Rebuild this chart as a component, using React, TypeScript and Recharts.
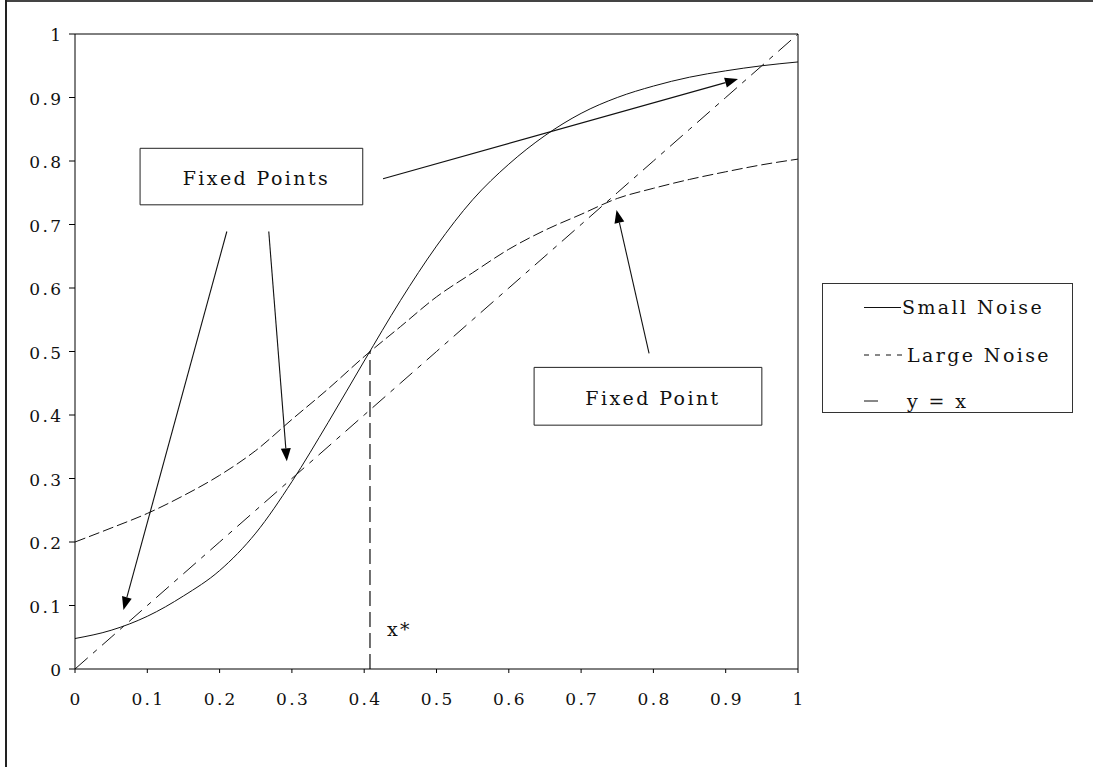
import React from 'react';
import { LineChart, Line, XAxis, YAxis, ReferenceLine, ReferenceArea, Legend } from 'recharts';

// ---- data ----
const xValues = [0, 0.05, 0.1, 0.15, 0.2, 0.25, 0.3, 0.35, 0.4, 0.45, 0.5, 0.55, 0.6, 0.65, 0.7, 0.75, 0.8, 0.85, 0.9, 0.95, 1];
const smallNoise = [0.048, 0.061, 0.083, 0.115, 0.155, 0.214, 0.295, 0.388, 0.485, 0.58, 0.666, 0.739, 0.795, 0.84, 0.875, 0.9, 0.918, 0.932, 0.942, 0.95, 0.956];
const largeNoise = [0.2, 0.222, 0.245, 0.273, 0.305, 0.344, 0.393, 0.441, 0.492, 0.539, 0.586, 0.624, 0.661, 0.691, 0.716, 0.741, 0.757, 0.771, 0.783, 0.794, 0.803];
const identity = [0, 0.05, 0.1, 0.15, 0.2, 0.25, 0.3, 0.35, 0.4, 0.45, 0.5, 0.55, 0.6, 0.65, 0.7, 0.75, 0.8, 0.85, 0.9, 0.95, 1];
const axisTicks = [0, 0.1, 0.2, 0.3, 0.4, 0.5, 0.6, 0.7, 0.8, 0.9, 1];
const seriesNames = ['Small Noise', 'Large Noise', 'y = x'];

const xStar = 0.408;
const xStarTop = 0.5;
const xStarLabel = 'x*';

// annotation arrows (data coordinates: from -> to)
const arrows = [
  { from: { x: 0.426, y: 0.772 }, to: { x: 0.917, y: 0.929 } },
  { from: { x: 0.21, y: 0.689 }, to: { x: 0.067, y: 0.093 } },
  { from: { x: 0.268, y: 0.689 }, to: { x: 0.293, y: 0.327 } },
  { from: { x: 0.794, y: 0.497 }, to: { x: 0.749, y: 0.723 } },
];

// annotation boxes (data coordinates)
const boxes = [
  { text: 'Fixed Points', x1: 0.09, x2: 0.398, y1: 0.731, y2: 0.82 },
  { text: 'Fixed Point', x1: 0.635, x2: 0.95, y1: 0.384, y2: 0.475 },
];

const data = xValues.map((x, i) => ({ x, small: smallNoise[i], large: largeNoise[i], diag: identity[i] }));

const FONT = '"DejaVu Serif", serif';
const TFS = 17;
const TLS = 2.3;
const FS = 19;
const LS = 2.4;
const INK = '#111';

const XTick = (p: any) => (
  <text x={p.x + TLS / 2} y={p.y + 30} textAnchor="middle" fontFamily={FONT} fontSize={TFS} letterSpacing={TLS} fill={INK}>
    {String(p.payload.value)}
  </text>
);

const YTick = (p: any) => (
  <text x={p.x + TLS} y={p.y + 7} textAnchor="end" fontFamily={FONT} fontSize={TFS} letterSpacing={TLS} fill={INK}>
    {String(p.payload.value)}
  </text>
);

const ArrowShape = (p: any) => {
  const { x1, y1, x2, y2 } = p;
  const ang = Math.atan2(y2 - y1, x2 - x1);
  const L = 13;
  const W = 5;
  const c = Math.cos(ang);
  const s = Math.sin(ang);
  const bx = x2 - L * c;
  const by = y2 - L * s;
  return (
    <g>
      <line x1={x1} y1={y1} x2={bx} y2={by} stroke={INK} strokeWidth={1.1} />
      <polygon points={`${x2},${y2} ${bx + W * s},${by - W * c} ${bx - W * s},${by + W * c}`} fill="#000" />
    </g>
  );
};

const XStarShape = (p: any) => {
  const { x1, y1, x2, y2 } = p;
  const bottom = Math.max(y1, y2);
  return (
    <g>
      <line x1={x1} y1={y1} x2={x2} y2={y2} stroke={INK} strokeWidth={1.2} strokeDasharray="15 6" />
      <text x={x1 + 17} y={bottom - 33} fontFamily={FONT} fontSize={FS} letterSpacing={LS} fill={INK}>
        {xStarLabel}
      </text>
    </g>
  );
};

const BoxLabel = (text: string) => (p: any) => {
  const vb = p.viewBox;
  return (
    <text
      x={vb.x + vb.width / 2 + 5}
      y={vb.y + vb.height / 2 + 8.5}
      textAnchor="middle"
      fontFamily={FONT}
      fontSize={FS}
      letterSpacing={LS}
      fill={INK}
    >
      {text}
    </text>
  );
};

const LegendBox = () => (
  <div style={{ width: 251, height: 130, boxSizing: 'border-box', border: '1px solid #333', background: '#fff' }}>
    <svg width={249} height={128} style={{ display: 'block' }}>
      <line x1={41} y1={23.5} x2={78} y2={23.5} stroke={INK} strokeWidth={1} />
      <text x={79} y={29.5} fontFamily={FONT} fontSize={FS} letterSpacing={LS} fill={INK}>{seriesNames[0]}</text>
      <line x1={41} y1={71} x2={80} y2={71} stroke={INK} strokeWidth={1} strokeDasharray="5 6" />
      <text x={84} y={77.5} fontFamily={FONT} fontSize={FS} letterSpacing={LS} fill={INK}>{seriesNames[1]}</text>
      <line x1={41} y1={117} x2={55} y2={117} stroke={INK} strokeWidth={1} />
      <text x={84} y={123.5} fontFamily={FONT} fontSize={FS} letterSpacing={LS} fill={INK}>{seriesNames[2]}</text>
    </svg>
  </div>
);

export default function App() {
  return (
    <div style={{ position: 'absolute', left: 0, top: 0, width: 1093, height: 767, background: '#fff', overflow: 'hidden' }}>
      <div style={{ position: 'absolute', left: 5, top: 0, width: 1088, height: 2, background: '#444' }} />
      <div style={{ position: 'absolute', left: 5, top: 0, width: 2, height: 767, background: '#222' }} />
      <LineChart width={1093} height={767} data={data} margin={{ top: 34, right: 44, bottom: 0, left: 0 }}>
        <XAxis
          type="number"
          dataKey="x"
          domain={[0, 1]}
          ticks={axisTicks}
          interval={0}
          height={98}
          tickSize={4}
          tickMargin={2}
          axisLine={{ stroke: '#000', strokeWidth: 1 }}
          tickLine={{ stroke: '#000' }}
          tick={XTick}
          allowDataOverflow
        />
        <YAxis
          type="number"
          domain={[0, 1]}
          ticks={axisTicks}
          interval={0}
          width={75}
          tickSize={6}
          tickMargin={8}
          axisLine={{ stroke: '#000', strokeWidth: 1 }}
          tickLine={{ stroke: '#000' }}
          tick={YTick}
          allowDataOverflow
        />
        <ReferenceLine y={1} stroke="#000" strokeWidth={1} />
        <ReferenceLine x={1} stroke="#000" strokeWidth={1} />
        <Legend
          layout="vertical"
          align="right"
          verticalAlign="middle"
          content={LegendBox}
          wrapperStyle={{ left: 822, top: 283, width: 251, height: 130 }}
        />
        <Line dataKey="diag" name={seriesNames[2]} stroke={INK} strokeWidth={1} strokeDasharray="17 7 5 7" dot={false} isAnimationActive={false} type="linear" />
        <Line dataKey="large" name={seriesNames[1]} stroke={INK} strokeWidth={1} strokeDasharray="11 4" dot={false} isAnimationActive={false} type="monotone" />
        <Line dataKey="small" name={seriesNames[0]} stroke={INK} strokeWidth={1} dot={false} isAnimationActive={false} type="monotone" />
        <ReferenceLine segment={[{ x: xStar, y: 0 }, { x: xStar, y: xStarTop }]} shape={XStarShape} ifOverflow="visible" />
        {arrows.map((a, i) => (
          <ReferenceLine key={`arrow-${i}`} segment={[a.from, a.to]} shape={ArrowShape} ifOverflow="visible" />
        ))}
        {boxes.map((b) => (
          <ReferenceArea
            key={b.text}
            x1={b.x1}
            x2={b.x2}
            y1={b.y1}
            y2={b.y2}
            fill="#fff"
            fillOpacity={1}
            stroke="#222"
            strokeWidth={1}
            ifOverflow="visible"
            label={BoxLabel(b.text)}
          />
        ))}
      </LineChart>
    </div>
  );
}
